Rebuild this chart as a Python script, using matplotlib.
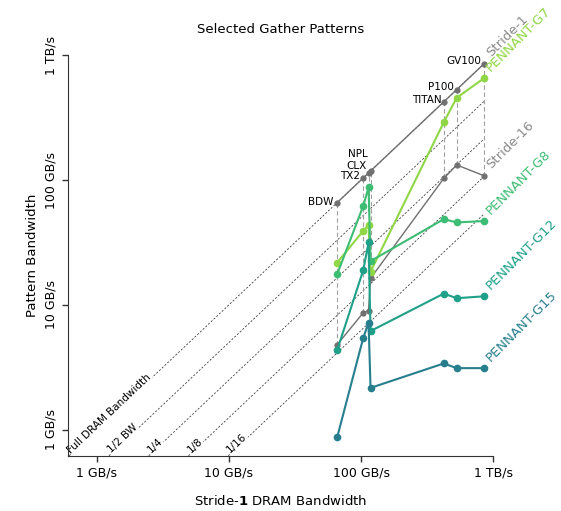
import numpy as np
import matplotlib
matplotlib.use('Agg')
import matplotlib.pyplot as plt

# platforms, ordered by stride-1 DRAM bandwidth (GB/s)
platforms = ['BDW', 'TX2', 'CLX', 'NPL', 'TITAN', 'P100', 'GV100']
stride1 = [66, 104, 114, 118, 423, 530, 857]
stride16 = [4.8, 8.65, 9.0, 16.3, 103, 132, 108]
pennant_g7 = [21.8, 39.2, 43.5, 18.4, 290, 456, 656]
pennant_g8 = [17.6, 62.2, 87.4, 22.4, 48.6, 45.7, 46.9]
pennant_g12 = [4.34, 19.0, 31.6, 6.16, 12.3, 11.3, 11.7]
pennant_g15 = [0.87, 5.45, 7.2, 2.16, 3.39, 3.11, 3.11]

# fractions of DRAM bandwidth drawn as reference diagonals
bw_fracs = [1, 1/2, 1/4, 1/8, 1/16]
bw_labels = ['Full DRAM Bandwidth', '1/2 BW', '1/4', '1/8', '1/16']

tick_vals = [1, 10, 100, 1000]
tick_labels = ['1 GB/s', '10 GB/s', '100 GB/s', '1 TB/s']

# where platform names sit relative to their stride-1 point (pixels)
name_offsets = {'BDW': (-4, 1), 'TX2': (-3, 2), 'CLX': (-2, 7), 'NPL': (-3, 17),
                'TITAN': (-2, 2), 'P100': (-3, 3), 'GV100': (-3, 3)}

gray = '#707070'
series = [
    ('Stride-1', stride1, gray, 1.0, 3.5, 9.5),
    ('Stride-16', stride16, gray, 1.0, 3.5, 9.5),
    ('PENNANT-G7', pennant_g7, '#8fd744', 1.5, 4.5, 9.5),
    ('PENNANT-G8', pennant_g8, '#3dbc74', 1.5, 4.5, 9.5),
    ('PENNANT-G12', pennant_g12, '#1fa088', 1.5, 4.5, 9.5),
    ('PENNANT-G15', pennant_g15, '#277f8e', 1.5, 4.5, 9.5),
]

fig = plt.figure(figsize=(5.61, 5.11), dpi=100)
ax = fig.add_axes([0.121, 0.108, 0.758, 0.784])
ax.set_xscale('log')
ax.set_yscale('log')
ax.set_xlim(0.603, 1000)
ax.set_ylim(0.617, 1000)

# screen angle of a y = c*x line
p0 = ax.transData.transform((1, 1))
p1 = ax.transData.transform((100, 100))
angle = np.degrees(np.arctan2(p1[1] - p0[1], p1[0] - p0[0]))

xmax = max(stride1)
for f, lab in zip(bw_fracs, bw_labels):
    x0 = max(ax.get_xlim()[0], ax.get_ylim()[0] / f)
    xs = np.array([x0, xmax])
    ax.plot(xs, xs * f, ls=(0, (2.5, 2)), color='k', lw=0.6, alpha=0.75, zorder=1)
    ax.text(x0 * 1.04, x0 * f * 1.04, lab, rotation=angle, rotation_mode='anchor',
            ha='left', va='baseline', fontsize=7.5, zorder=1.2,
            bbox=dict(fc='white', ec='none', pad=0.4))

# dashed drops from stride-1 to stride-16
for x, s16 in zip(stride1, stride16):
    ax.plot([x, x], [s16, x], ls=(0, (4, 2.5)), color='#a0a0a0', lw=0.8, zorder=1.5)

for name, vals, c, lw, ms, fs in series:
    z = 2 if name.startswith('Stride') else 3
    ax.plot(stride1, vals, '-o', color=c, lw=lw, ms=ms, zorder=z)
    lc = '#8a8a8a' if name.startswith('Stride') else c
    ax.annotate(name, (stride1[-1], vals[-1]), xytext=(4, 9), textcoords='offset pixels',
                rotation=45, rotation_mode='anchor', ha='left', va='center',
                color=lc, fontsize=fs, annotation_clip=False)

for p, x in zip(platforms, stride1):
    ax.annotate(p, (x, x), xytext=name_offsets[p], textcoords='offset pixels',
                ha='right', va='center', fontsize=7.5)

ax.set_xticks(tick_vals, tick_labels)
ax.set_yticks(tick_vals, tick_labels)
ax.minorticks_off()
ax.tick_params(labelsize=9, length=4, width=1, color='#333333')
ax.tick_params(axis='y', labelrotation=90)
for lab in ax.get_yticklabels():
    lab.set_va('center')

for s in ['top', 'right']:
    ax.spines[s].set_visible(False)
for s in ['left', 'bottom']:
    ax.spines[s].set_color('#333333')

ax.set_title('Selected Gather Patterns', fontsize=9.5, pad=16)
ax.set_xlabel(r'Stride-$\mathbf{1}$ DRAM Bandwidth', fontsize=9.5)
ax.set_ylabel('Pattern Bandwidth', fontsize=9.5)
ax.xaxis.set_label_coords(0.5, -0.095)
ax.yaxis.set_label_coords(-0.068, 0.5)

fig.savefig('out.png', dpi=100)
